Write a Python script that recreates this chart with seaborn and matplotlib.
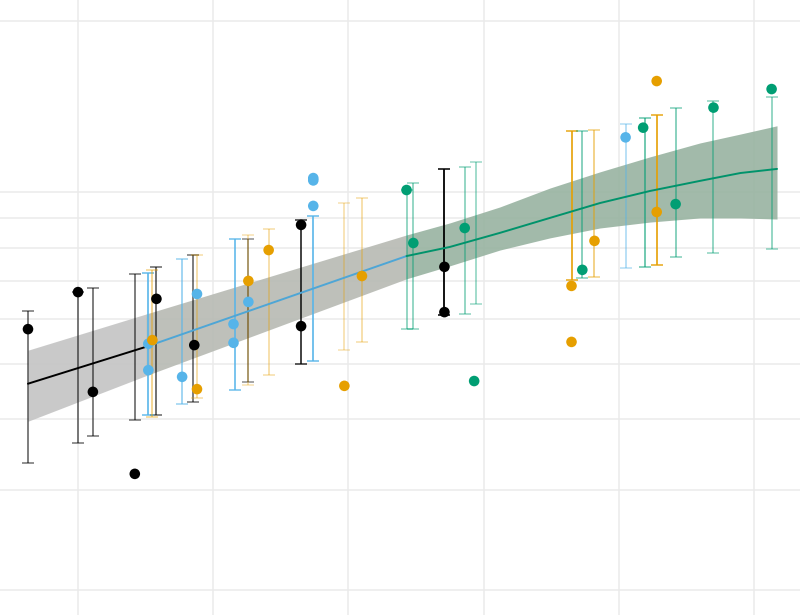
import matplotlib
matplotlib.use('Agg')
import matplotlib.pyplot as plt
import matplotlib.ticker as mticker
import pandas as pd
import seaborn as sns

# ----- # Datos observados (puntos) por grupo # ----- #
negro_x = [0.63, 1.00, 1.11, 1.42, 1.58, 1.86, 2.65, 2.65, 3.71, 3.71]
negro_y = [5.75, 6.68, 4.46, 3.20, 6.50, 5.39, 8.77, 5.82, 7.40, 6.16]

azul_x = [1.52, 1.52, 1.77, 1.88, 2.15, 2.15, 2.26, 2.74, 2.74, 2.74, 5.05]
azul_y = [5.42, 4.87, 4.74, 6.63, 5.87, 5.44, 6.42, 10.6, 10.5, 9.47, 12.5]

naranja_x = [1.55, 1.88, 2.26, 2.41, 2.97, 3.10, 4.65, 4.65, 4.82, 5.28,
             5.28]
naranja_y = [5.50, 4.51, 6.99, 7.92, 4.57, 7.13, 6.85, 5.46, 8.22, 15.7,
             9.24]

verde_x = [3.43, 3.48, 3.86, 3.93, 4.73, 5.18, 5.42, 5.70, 6.13]
verde_y = [10.1, 8.15, 8.66, 4.66, 7.31, 13.0, 9.54, 14.1, 15.2]

# ----- # Intervalos (barras de error) por grupo # ----- #
negro_bx = [0.63, 1.00, 1.11, 1.42, 1.58, 1.85, 2.26, 2.65, 3.71]
negro_lo = [3.34, 3.63, 3.73, 3.98, 4.06, 4.28, 4.64, 4.99, 6.09]
negro_hi = [6.19, 6.68, 6.79, 7.19, 7.40, 7.77, 8.28, 8.94, 11.0]
negro_alfa = [0.55, 0.55, 0.55, 0.55, 0.6, 0.55, 0.45, 0.8, 1.0]

azul_bx = [1.52, 1.77, 2.16, 2.74, 5.05]
azul_lo = [4.06, 4.25, 4.49, 5.06, 7.36]
azul_hi = [7.22, 7.64, 8.28, 9.09, 13.2]
azul_alfa = [0.9, 0.6, 0.85, 0.9, 0.45]

naranja_bx = [1.55, 1.88, 2.26, 2.41, 2.97, 3.10, 4.65, 4.82, 5.28]
naranja_lo = [4.03, 4.35, 4.59, 4.78, 5.28, 5.46, 7.02, 7.10, 7.46]
naranja_hi = [7.31, 7.77, 8.42, 8.63, 9.58, 9.78, 12.8, 12.9, 13.7]
naranja_alfa = [0.45, 0.35, 0.3, 0.35, 0.3, 0.35, 0.9, 0.5, 0.9]

verde_bx = [3.43, 3.48, 3.86, 3.94, 4.73, 5.19, 5.42, 5.70, 6.13]
verde_lo = [5.75, 5.75, 6.11, 6.37, 7.07, 7.40, 7.70, 7.83, 7.95]
verde_hi = [10.1, 10.4, 11.1, 11.3, 12.8, 13.5, 14.1, 14.5, 14.7]
verde_alfa = [0.45, 0.45, 0.45, 0.4, 0.5, 0.6, 0.5, 0.45, 0.45]

# ----- # Curva ajustada y banda de confianza por tramo # ----- #
negro_fx = [0.63, 1.50]
negro_fy = [4.61, 5.35]
negro_flo = [3.96, 4.76]
negro_fhi = [5.28, 6.11]

azul_fx = [1.50, 3.43]
azul_fy = [5.35, 7.73]
azul_flo = [4.76, 7.05]
azul_fhi = [6.11, 8.42]

verde_fx = [3.43, 3.75, 4.12, 4.49, 4.86, 5.23, 5.60, 5.90, 6.17]
verde_fy = [7.73, 8.02, 8.49, 9.02, 9.58, 10.06, 10.48, 10.82, 11.0]
verde_flo = [7.05, 7.43, 7.92, 8.32, 8.66, 8.87, 9.02, 9.02, 8.98]
verde_fhi = [8.42, 8.84, 9.43, 10.18, 10.87, 11.55, 12.22, 12.67, 13.1]

colores = {'negro': '#000000', 'azul': '#56B4E9',
           'naranja': '#E69F00', 'verde': '#009E73'}

# Tabla de puntos para seaborn
puntos = pd.concat([
    pd.DataFrame({'x': negro_x, 'y': negro_y, 'grupo': 'negro'}),
    pd.DataFrame({'x': azul_x, 'y': azul_y, 'grupo': 'azul'}),
    pd.DataFrame({'x': naranja_x, 'y': naranja_y, 'grupo': 'naranja'}),
    pd.DataFrame({'x': verde_x, 'y': verde_y, 'grupo': 'verde'}),
], ignore_index=True)

sns.set_theme(style='white')

fig = plt.figure(figsize=(8, 6.15), dpi=100)
ax = fig.add_axes([0, 0, 1, 1])
ax.set_yscale('log')


# ----- # Función para dibujar las barras de error de un grupo # ----- #
def barras_error(bx, lo, hi, alfas, color):
    for x, a, b, al in zip(bx, lo, hi, alfas):
        ax.errorbar([x], [a], yerr=[[0], [b - a]], fmt='none',
                    ecolor=color, alpha=al, elinewidth=1.3,
                    capsize=4, capthick=1.1, zorder=3)


# Bandas de confianza
ax.fill_between(negro_fx, negro_flo, negro_fhi, color='#c4c4c4',
                alpha=0.9, linewidth=0, zorder=2)
ax.fill_between(azul_fx, azul_flo, azul_fhi, color='#b7bab3',
                alpha=0.9, linewidth=0, zorder=2)
ax.fill_between(verde_fx, verde_flo, verde_fhi, color='#98b3a1',
                alpha=0.9, linewidth=0, zorder=2)

# Barras de error
barras_error(negro_bx, negro_lo, negro_hi, negro_alfa, colores['negro'])
barras_error(azul_bx, azul_lo, azul_hi, azul_alfa, colores['azul'])
barras_error(naranja_bx, naranja_lo, naranja_hi, naranja_alfa,
             colores['naranja'])
barras_error(verde_bx, verde_lo, verde_hi, verde_alfa, colores['verde'])

# Curva ajustada
sns.lineplot(x=negro_fx, y=negro_fy, color='#000000', linewidth=1.4,
             ax=ax, zorder=4)
sns.lineplot(x=azul_fx, y=azul_fy, color='#4ea6d6', linewidth=1.4,
             ax=ax, zorder=4)
sns.lineplot(x=verde_fx, y=verde_fy, color='#00936b', linewidth=1.4,
             ax=ax, zorder=4)

# Puntos
sns.scatterplot(data=puntos, x='x', y='y', hue='grupo', palette=colores,
                s=58, linewidth=0, legend=False, ax=ax, zorder=5)

# Ejes y rejilla
ax.set_xlim(0.423, 6.34)
ax.set_ylim(1.807, 21.8)
ax.set_xticks([1, 2, 3, 4, 5, 6])
ax.set_yticks([2, 3, 4, 5, 6, 7, 8, 9, 10, 20])
ax.yaxis.set_minor_locator(mticker.NullLocator())
ax.grid(True, color='#ebebeb', linewidth=1.1)
ax.set_axisbelow(True)
ax.tick_params(length=0, labelleft=False, labelbottom=False)
ax.set_xlabel('')
ax.set_ylabel('')
for lado in ax.spines.values():
    lado.set_visible(False)

fig.savefig('out.png', dpi=100)
